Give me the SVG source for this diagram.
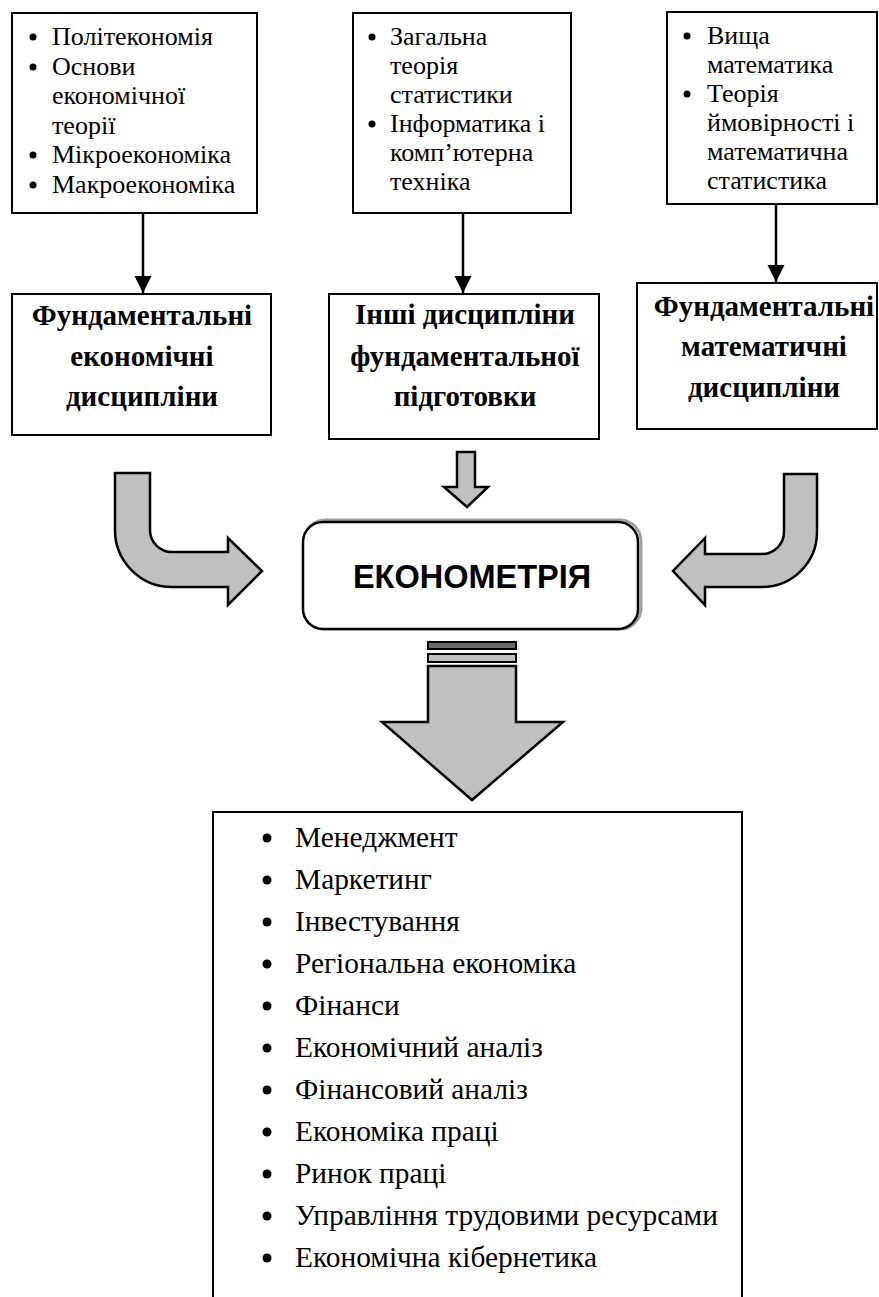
<svg xmlns="http://www.w3.org/2000/svg" width="879" height="1297" viewBox="0 0 879 1297">
<style>
.box{fill:#fff;stroke:#000;stroke-width:2}
.t{font-family:"Liberation Serif","Times New Roman",serif;font-size:26px;fill:#000}
.tb{font-family:"Liberation Serif","Times New Roman",serif;font-size:29px;font-weight:bold;fill:#000;text-anchor:middle}
.tl{font-family:"Liberation Serif","Times New Roman",serif;font-size:29.4px;fill:#000}
.blk{fill:#c0c0c0;stroke:#000;stroke-width:2.5;stroke-linejoin:miter}
.ln{stroke:#000;stroke-width:2.5;fill:none}
</style>
<defs>
<marker id="ah" viewBox="0 0 10 10" refX="10" refY="5" markerWidth="7" markerHeight="7" markerUnits="strokeWidth" orient="auto">
<path d="M0,0 L10,5 L0,10 z" fill="#000"/>
</marker>
</defs>
<rect width="879" height="1297" fill="#fff"/>

<g id="src-econ">
<rect class="box" x="12" y="13" width="245" height="200"/>
<circle cx="33" cy="37" r="3.5"/>
<circle cx="33" cy="67" r="3.5"/>
<circle cx="33" cy="155" r="3.5"/>
<circle cx="33" cy="185" r="3.5"/>
<text class="t" x="52" y="45">Політекономія</text>
<text class="t" x="52" y="74.5">Основи</text>
<text class="t" x="52" y="104">економічної</text>
<text class="t" x="52" y="133.5">теорії</text>
<text class="t" x="52" y="163">Мікроекономіка</text>
<text class="t" x="52" y="192.5">Макроекономіка</text>
</g>

<g id="src-other">
<rect class="box" x="353" y="13" width="218" height="200"/>
<circle cx="372" cy="37" r="3.5"/>
<circle cx="372" cy="124" r="3.5"/>
<text class="t" x="390" y="45">Загальна</text>
<text class="t" x="390" y="74">теорія</text>
<text class="t" x="390" y="103">статистики</text>
<text class="t" x="390" y="132">Інформатика і</text>
<text class="t" x="390" y="161">комп’ютерна</text>
<text class="t" x="390" y="190">техніка</text>
</g>

<g id="src-math">
<rect class="box" x="667" y="12" width="210" height="192"/>
<circle cx="687" cy="36" r="3.5"/>
<circle cx="687" cy="94" r="3.5"/>
<text class="t" x="707" y="44">Вища</text>
<text class="t" x="707" y="73">математика</text>
<text class="t" x="707" y="102">Теорія</text>
<text class="t" x="707" y="131">ймовірності і</text>
<text class="t" x="707" y="160">математична</text>
<text class="t" x="707" y="189">статистика</text>
</g>

<g id="fund-econ">
<rect class="box" x="12" y="294" width="259" height="141"/>
<text class="tb" x="142" y="325">Фундаментальні</text>
<text class="tb" x="142" y="366">економічні</text>
<text class="tb" x="142" y="406">дисципліни</text>
</g>

<g id="fund-other">
<rect class="box" x="329" y="294" width="270" height="145"/>
<text class="tb" x="465" y="324">Інші дисципліни</text>
<text class="tb" x="465" y="366">фундаментальної</text>
<text class="tb" x="465" y="406">підготовки</text>
</g>

<g id="fund-math">
<rect class="box" x="637" y="283" width="240" height="146"/>
<text class="tb" x="764" y="316">Фундаментальні</text>
<text class="tb" x="764" y="356">математичні</text>
<text class="tb" x="764" y="397">дисципліни</text>
</g>

<g id="econometrics">
<rect x="304" y="520" width="337" height="109" rx="21" fill="none" stroke="#a0a0a0" stroke-width="3"/>
<rect x="303" y="522" width="335" height="107" rx="20" fill="#fff" stroke="#000" stroke-width="2.5"/>
<text x="472" y="588" font-family="'Liberation Sans',Arial,sans-serif" font-size="32.5" font-weight="bold" text-anchor="middle">ЕКОНОМЕТРІЯ</text>
</g>

<g id="applications">
<rect class="box" x="213" y="812" width="529" height="520"/>
<g>
<circle cx="267" cy="838" r="4.5"/><text class="tl" x="295" y="847">Менеджмент</text>
<circle cx="267" cy="880" r="4.5"/><text class="tl" x="295" y="889">Маркетинг</text>
<circle cx="267" cy="922" r="4.5"/><text class="tl" x="295" y="931">Інвестування</text>
<circle cx="267" cy="964" r="4.5"/><text class="tl" x="295" y="973">Регіональна економіка</text>
<circle cx="267" cy="1006" r="4.5"/><text class="tl" x="295" y="1015">Фінанси</text>
<circle cx="267" cy="1048" r="4.5"/><text class="tl" x="295" y="1057">Економічний аналіз</text>
<circle cx="267" cy="1090" r="4.5"/><text class="tl" x="295" y="1099">Фінансовий аналіз</text>
<circle cx="267" cy="1132" r="4.5"/><text class="tl" x="295" y="1141">Економіка праці</text>
<circle cx="267" cy="1174" r="4.5"/><text class="tl" x="295" y="1183">Ринок праці</text>
<circle cx="267" cy="1216" r="4.5"/><text class="tl" x="295" y="1225">Управління трудовими ресурсами</text>
<circle cx="267" cy="1258" r="4.5"/><text class="tl" x="295" y="1267">Економічна кібернетика</text>
</g>
</g>

<g id="connectors">
<line class="ln" x1="143" y1="213" x2="143" y2="293" marker-end="url(#ah)"/>
<line class="ln" x1="463" y1="213" x2="463" y2="293" marker-end="url(#ah)"/>
<line class="ln" x1="776" y1="204" x2="776" y2="282" marker-end="url(#ah)"/>
<path class="blk" d="M115,473 L150,473 L150,530 A22,22 0 0 0 172,552 L228,552 L228,538 L262,571 L228,605 L228,587 L172,587 A57,57 0 0 1 115,530 Z"/>
<path class="blk" d="M784,474 L817,474 L817,532 A55,55 0 0 1 762,587 L705,587 L705,605 L673,571 L705,538 L705,554 L762,554 A22,22 0 0 0 784,532 Z"/>
<path class="blk" d="M457,452 L475,452 L475,487 L488,487 L467,507 L444,487 L457,487 Z"/>
<rect x="428" y="642" width="88" height="7" fill="#6a6a6a" stroke="#000" stroke-width="2"/>
<rect x="428" y="654" width="88" height="8" fill="#c0c0c0" stroke="#000" stroke-width="2"/>
<path class="blk" d="M428,666 L516,666 L516,722 L563,722 L472,800 L382,722 L428,722 Z"/>
</g>
</svg>
